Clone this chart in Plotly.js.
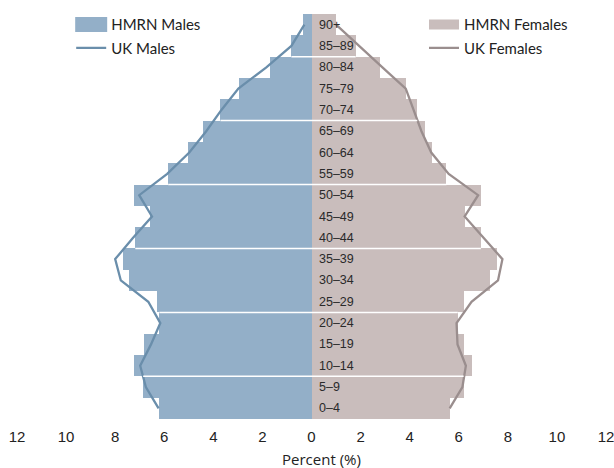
<!DOCTYPE html>
<html><head><meta charset="utf-8">
<script src="https://cdn.plot.ly/plotly-3.0.1.min.js"></script>
<style>html,body{margin:0;padding:0;background:#fff}</style>
</head><body><div id="chart" style="width:614px;height:468px"></div>
<script>
const ageGroups = ["0–4","5–9","10–14","15–19","20–24","25–29","30–34","35–39","40–44","45–49","50–54","55–59","60–64","65–69","70–74","75–79","80–84","85–89","90+"];
const hmrnMales   = [6.20,6.86,7.22,6.82,6.20,6.29,7.43,7.70,7.18,6.57,7.25,5.84,5.05,4.44,3.71,2.94,1.71,0.82,0.33];
const hmrnFemales = [5.63,6.20,6.52,6.20,5.96,6.20,7.29,7.54,6.90,6.24,6.90,5.50,4.93,4.61,4.31,3.84,2.78,1.80,1.00];
const ukMales     = [6.23,6.75,6.98,6.54,6.16,6.65,7.77,8.00,7.27,6.50,7.02,5.88,4.98,4.29,3.67,2.98,1.84,0.82,0.29];
const ukFemales   = [5.63,6.15,6.29,5.95,5.91,6.52,7.60,7.78,7.01,6.24,6.79,5.59,4.88,4.48,4.16,3.84,2.89,1.95,1.00];
const tickValues  = [-12,-10,-8,-6,-4,-2,0,2,4,6,8,10,12];
const tickLabels  = ["12","10","8","6","4","2","0","2","4","6","8","10","12"];
const xTitle = 'Percent (%)';

const maleBar = '#93afc8', femaleBar = '#c9bdbc';
const maleLine = '#6a8eab', femaleLine = '#9a8e8e';

const traces = [
  {type:'bar', orientation:'h', y:ageGroups, x:hmrnMales.map(v=>-v), marker:{color:maleBar},
   name:'HMRN Males', legendgroup:'hm', showlegend:false, hoverinfo:'skip'},
  {type:'bar', orientation:'h', y:ageGroups, x:hmrnFemales, marker:{color:femaleBar},
   name:'HMRN Females', legendgroup:'hf', showlegend:false, hoverinfo:'skip'},
  {type:'scatter', mode:'lines', x:[null], y:[null], name:'HMRN Males', legendgroup:'hm',
   line:{color:maleBar, width:10}, legend:'legend'},
  {type:'scatter', mode:'lines', y:ageGroups, x:ukMales.map(v=>-v), name:'UK Males', legendgroup:'um',
   line:{color:maleLine, width:2.3}, legend:'legend'},
  {type:'scatter', mode:'lines', x:[null], y:[null], name:'HMRN Females', legendgroup:'hf',
   line:{color:femaleBar, width:10}, legend:'legend2'},
  {type:'scatter', mode:'lines', y:ageGroups, x:ukFemales, name:'UK Females', legendgroup:'uf',
   line:{color:femaleLine, width:2.3}, legend:'legend2'}
];

const shapes = [];
for (let i = 1; i < ageGroups.length - 1; i += 3) {
  shapes.push({type:'line', xref:'x', yref:'y', layer:'above',
    x0:-Math.min(hmrnMales[i],hmrnMales[i+1]), x1:Math.min(hmrnFemales[i],hmrnFemales[i+1]),
    y0:i+0.5, y1:i+0.5, line:{color:'#ffffff', width:1.5}});
}

const annotations = ageGroups.map((g,i)=>({x:0, y:g, xref:'x', yref:'y', text:g, showarrow:false,
  xanchor:'left', xshift:5, font:{family:'Liberation Sans, Arial, sans-serif', size:12.5, color:'#2a2a2a'}}));
annotations.push({text:xTitle, xref:'paper', yref:'paper', x:0.5175, y:-0.0996, xanchor:'center', yanchor:'middle',
  showarrow:false, font:{family:'Open Sans, sans-serif', size:15, color:'#222'}});

const legendFont = {family:'Lato, sans-serif', size:15, color:'#222'};
const layout = {
  width:614, height:468,
  margin:{l:17, r:8, t:14, b:49.3},
  paper_bgcolor:'#fff', plot_bgcolor:'#fff',
  barmode:'overlay', bargap:0,
  xaxis:{range:[-12,12], tickvals:tickValues, ticktext:tickLabels, showgrid:false, zeroline:false,
    showline:false, ticks:'', ticklabelstandoff:7, ticklabeloverflow:'allow',
    tickfont:{family:'Liberation Sans, Arial, sans-serif', size:15, color:'#222'}},
  yaxis:{range:[-0.5,18.5], visible:false, type:'category', categoryorder:'array', categoryarray:ageGroups},
  legend:{x:0.092, xanchor:'left', y:1.0144, yanchor:'top', font:legendFont, bgcolor:'rgba(0,0,0,0)', tracegroupgap:1, itemclick:false},
  legend2:{x:0.691, xanchor:'left', y:1.0144, yanchor:'top', font:legendFont, bgcolor:'rgba(0,0,0,0)', tracegroupgap:1, itemclick:false},
  shapes:shapes, annotations:annotations, showlegend:true
};
Plotly.newPlot('chart', traces, layout, {displayModeBar:false, staticPlot:true}).then(gd => {
  // widen the legend swatches of the HMRN (bar) entries to a bar-like block
  gd.querySelectorAll('.legend .traces').forEach(t => {
    const txt = t.querySelector('.legendtext');
    if (txt && txt.textContent.indexOf('HMRN') === 0) {
      t.querySelectorAll('.legendlines path').forEach(p => {
        p.style.strokeWidth = '15px';
        p.style.strokeLinecap = 'butt';
        p.setAttribute('d', 'M4,0h32');
      });
    }
  });
});
</script></body></html>
